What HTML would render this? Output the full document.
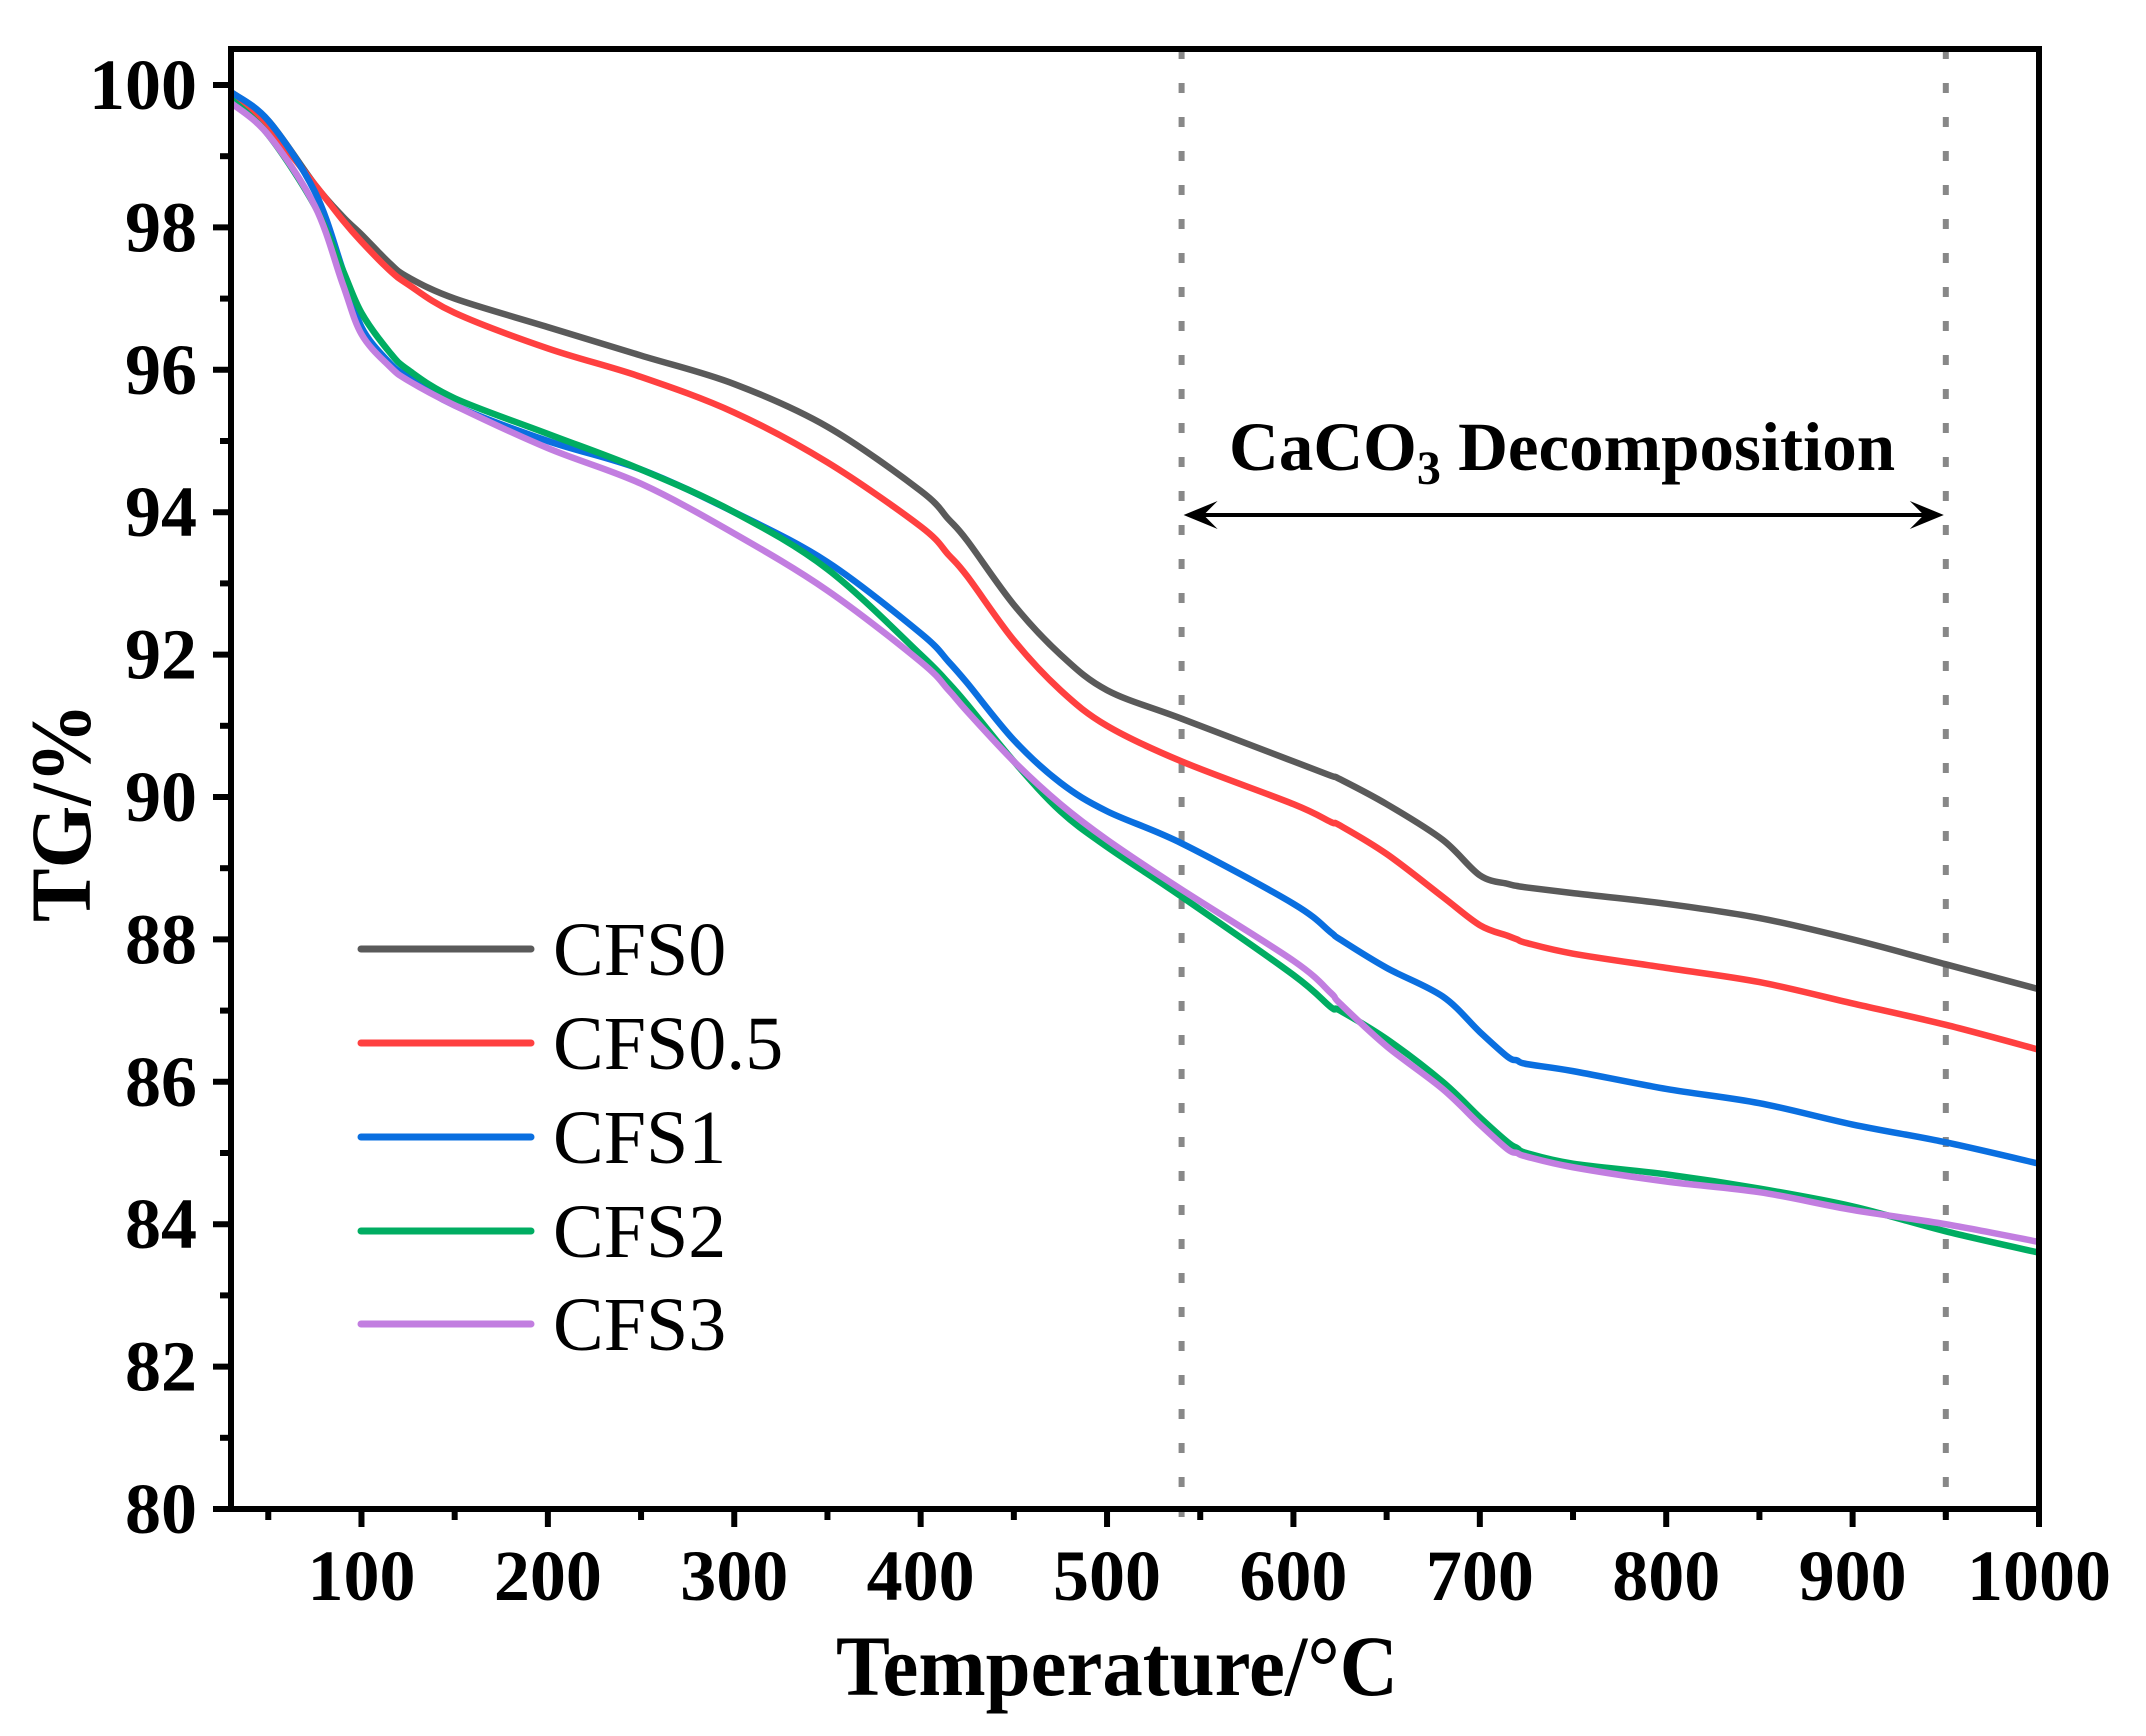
<!DOCTYPE html>
<html><head><meta charset="utf-8"><style>
html,body{margin:0;padding:0;background:#fff;}
svg{display:block;font-family:"Liberation Serif",serif;}
</style></head><body>
<svg id="chart" width="2146" height="1736" viewBox="0 0 2146 1736" xmlns="http://www.w3.org/2000/svg">
<g id="plot"></g>
</svg>
<script>
const temps = [30,50,75,90,100,115,125,150,200,250,300,350,400,415,425,450,475,500,540,600,620,625,650,680,700,715,720,725,750,800,850,900,950,1000];
const cfs0  = [99.9,99.5,98.6,98.15,97.9,97.5,97.3,97.0,96.6,96.2,95.8,95.2,94.3,93.9,93.6,92.7,92.0,91.5,91.1,90.5,90.3,90.25,89.9,89.4,88.9,88.78,88.75,88.73,88.65,88.5,88.3,88.0,87.65,87.3];
const cfs05 = [99.85,99.4,98.6,98.1,97.8,97.4,97.2,96.8,96.3,95.9,95.4,94.7,93.8,93.4,93.1,92.2,91.5,91.0,90.5,89.9,89.65,89.6,89.2,88.6,88.2,88.05,88.0,87.95,87.8,87.6,87.4,87.1,86.8,86.45];
const cfs1  = [99.9,99.5,98.5,97.4,96.6,96.1,95.9,95.5,95.0,94.6,94.0,93.3,92.3,91.9,91.6,90.8,90.2,89.8,89.35,88.5,88.1,88.0,87.6,87.2,86.7,86.35,86.3,86.25,86.15,85.9,85.7,85.4,85.15,84.85];
const cfs2  = [99.8,99.3,98.3,97.4,96.8,96.25,96.0,95.6,95.1,94.6,94.0,93.2,92.0,91.6,91.3,90.5,89.8,89.3,88.6,87.5,87.05,87.0,86.6,86.0,85.5,85.15,85.07,85.0,84.85,84.7,84.5,84.25,83.9,83.6];
const cfs3  = [99.75,99.3,98.3,97.2,96.5,96.05,95.85,95.5,94.9,94.4,93.7,92.9,91.9,91.5,91.2,90.5,89.9,89.4,88.7,87.7,87.25,87.1,86.5,85.9,85.4,85.05,85.0,84.95,84.8,84.6,84.45,84.2,84.0,83.75];
const seriesNames = ["CFS0","CFS0.5","CFS1","CFS2","CFS3"];
const xTicks = [100,200,300,400,500,600,700,800,900,1000];
const yTicks = [80,82,84,86,88,90,92,94,96,98,100];
const markers = [540,950];

const NS="http://www.w3.org/2000/svg";
const L=231,R=2039,T=49,B=1509,XMIN=30,XMAX=1000;
const x=v=>L+(v-XMIN)*(R-L)/(XMAX-XMIN);
const y=v=>1509-(v-80)*71.2;
const svg=document.getElementById('chart');
function el(tag,attrs,parent){const e=document.createElementNS(NS,tag);for(const k in attrs)e.setAttribute(k,attrs[k]);(parent||svg).appendChild(e);return e;}
const colors=["#5a5a5a","#ff4040","#0a6fe0","#00ad62","#c27ee0"];
const data=[cfs0,cfs05,cfs1,cfs2,cfs3];

markers.forEach(m=>{
  const d=el('line',{x1:x(m),x2:x(m),y1:T,y2:B+8,stroke:'#888',"stroke-width":6,"stroke-dasharray":"10 24"});
  
  
});

data.forEach((s,i)=>{
  const p=temps.map((t,j)=>[x(t),y(s[j])]);
  let d='M'+p[0][0]+','+p[0][1];
  for(let j=0;j<p.length-1;j++){
    const p0=p[j-1]||p[j],p1=p[j],p2=p[j+1],p3=p[j+2]||p2;
    const c1=[p1[0]+(p2[0]-p0[0])/6,p1[1]+(p2[1]-p0[1])/6];
    const c2=[p2[0]-(p3[0]-p1[0])/6,p2[1]-(p3[1]-p1[1])/6];
    d+=` C${c1[0]},${c1[1]} ${c2[0]},${c2[1]} ${p2[0]},${p2[1]}`;
  }
  const path=el('path',{d:d,fill:'none',stroke:colors[i],"stroke-width":6.5,"stroke-linejoin":"round"});
  
  
});

const frame=el('rect',{x:L,y:T,width:R-L,height:B-T,fill:'none',stroke:'#000',"stroke-width":6});



for(let v=50;v<=1000;v+=50){
  const major=v%100===0;
  const t=el('line',{x1:x(v),x2:x(v),y1:B,y2:B+(major?18:11),stroke:'#000',"stroke-width":6});
  
  
}
xTicks.forEach(v=>{
  const t=el('text',{x:x(v),y:1600,"text-anchor":"middle","font-size":72,"font-weight":"bold"});
  t.textContent=v;
  
  
});
for(let v=80;v<=100;v+=1){
  const major=v%2===0;
  const t=el('line',{x1:L,x2:L-(major?18:11),y1:y(v),y2:y(v),stroke:'#000',"stroke-width":6});
  
  
}
yTicks.forEach(v=>{
  const t=el('text',{x:197,y:y(v)+24,"text-anchor":"end","font-size":72,"font-weight":"bold"});
  t.textContent=v;
  
  
});

const xt=el('text',{x:836,y:1695,"font-size":86,"font-weight":"bold",textLength:562,lengthAdjust:"spacingAndGlyphs"});
xt.textContent='Temperature/°C';


const yt=el('text',{x:0,y:0,"font-size":86,"font-weight":"bold",transform:"translate(90,922) rotate(-90)",textLength:219,lengthAdjust:"spacingAndGlyphs"});
yt.textContent='TG/%';



const an=el('text',{x:1229,y:470,"font-size":69,"font-weight":"bold"});


an.innerHTML='CaCO<tspan font-size="48" dy="14">3</tspan><tspan dy="-14"> Decomposition</tspan>';
const ax1=x(markers[0])+2,ax2=x(markers[1])-2,ay=515;
const ar=el('line',{x1:ax1+10,x2:ax2-10,y1:ay,y2:ay,stroke:'#000',"stroke-width":4});


const h1=el('path',{d:`M${ax1},${ay} L${ax1+34},${ay-14} L${ax1+20},${ay} L${ax1+34},${ay+14} Z`,fill:'#000'});


const h2=el('path',{d:`M${ax2},${ay} L${ax2-34},${ay-14} L${ax2-20},${ay} L${ax2-34},${ay+14} Z`,fill:'#000'});



const legY=[949,1043,1137,1231,1324];
seriesNames.forEach((n,i)=>{
  const g=el('g',{});
  
  
  el('line',{x1:361,x2:531,y1:legY[i],y2:legY[i],stroke:colors[i],"stroke-width":7,"stroke-linecap":"round"},g);
  const t=el('text',{x:553,y:legY[i]+26,"font-size":76},g);
  t.textContent=n;
});
</script>
</body></html>
